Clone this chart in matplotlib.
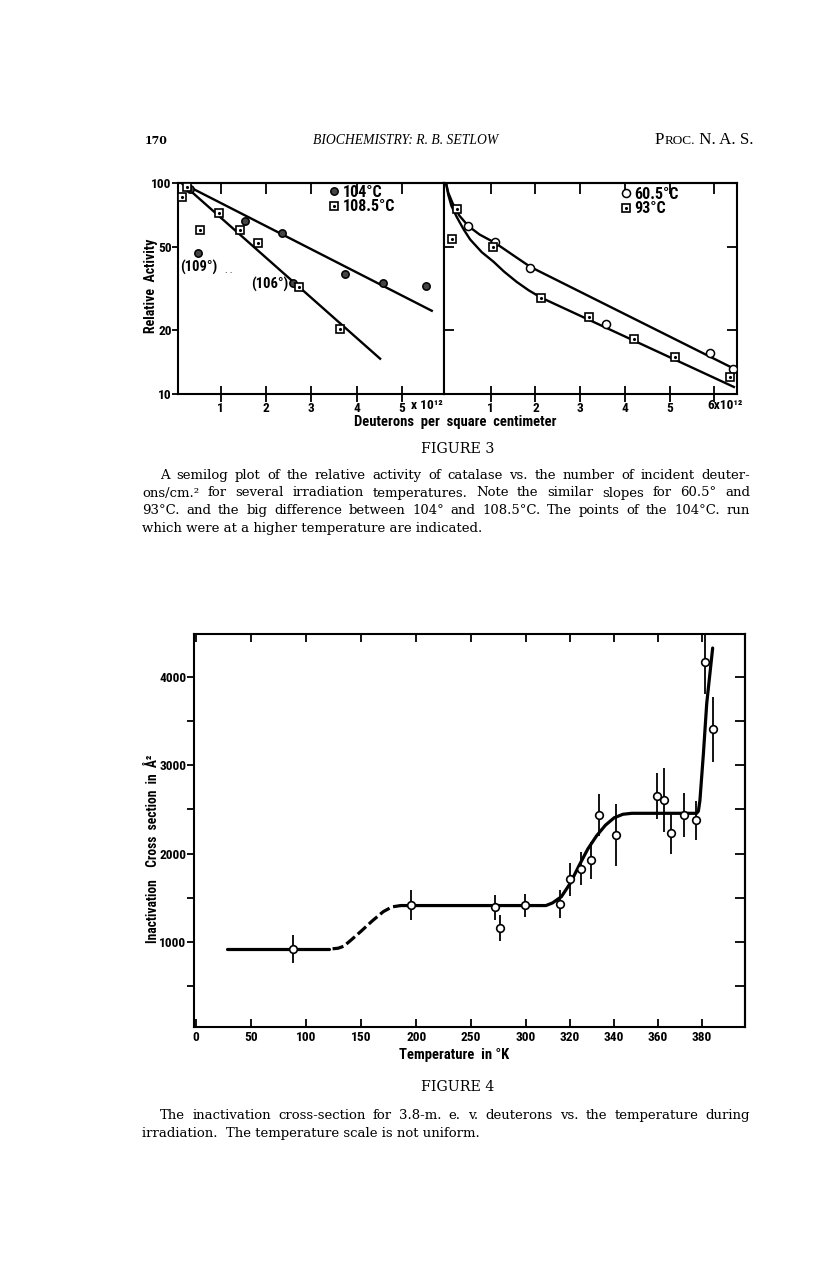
import numpy as np
import matplotlib
matplotlib.use("Agg")
import matplotlib.pyplot as plt
from matplotlib import font_manager as fm

W, H = 816, 1267
DPI = 100

# ---------------- Figure 3 data ----------------
dose_104 = [0.32, 1.54, 2.35, 0.51, 2.59, 3.74, 4.59, 5.53]
act_104 = [93.7, 66.0, 57.8, 46.8, 33.7, 37.0, 33.5, 32.6]
dose_1085 = [0.14, 0.26, 0.54, 0.97, 1.43, 1.82, 2.72, 3.63]
act_1085 = [86.0, 95.5, 59.7, 71.8, 59.7, 52.1, 32.0, 20.3]
line_104_x = [0.14, 5.66]
line_104_y = [100.0, 24.8]
line_1085_x = [0.14, 4.52]
line_1085_y = [100.0, 14.7]

dose_605 = [0.50, 1.10, 1.89, 3.59, 5.91, 6.41]
act_605 = [62.5, 52.4, 39.7, 21.5, 15.7, 13.2]
dose_93 = [0.13, 0.25, 1.06, 2.13, 3.21, 4.21, 5.13, 6.35]
act_93 = [54.3, 75.3, 49.6, 28.6, 23.2, 18.2, 14.9, 12.0]
curve_605_x = [0.0, 0.05, 0.15, 0.30, 0.50, 0.75, 1.10, 1.50, 1.89, 6.50]
curve_605_y = [100, 90, 80, 70, 62.5, 57, 52, 45.5, 40, 13.0]
curve_93_x = [0.0, 0.05, 0.12, 0.24, 0.40, 0.54, 0.80, 1.06, 1.30, 1.58, 1.85, 2.13, 6.44]
curve_93_y = [100, 88, 78, 69, 60, 54, 47, 42.4, 38, 34, 31, 28.6, 10.8]

left_xticks = [1, 2, 3, 4, 5]
right_xticks = [1, 2, 3, 4, 5, 6]
act_ticks = [10, 20, 50, 100]

# ---------------- Figure 4 data ----------------
temp_K = [88.2, 195.5, 271.5, 276.4, 298.8, 315.6, 320.0, 324.9, 329.4, 333.0,
          340.8, 359.7, 362.7, 365.9, 371.8, 377.0, 381.4, 385.1]
cross_section = [921, 1416, 1390, 1155, 1413, 1427, 1707, 1828, 1926, 2436,
                 2210, 2652, 2607, 2236, 2436, 2376, 4171, 3408]
cross_err = [160, 170, 140, 145, 130, 155, 185, 190, 210, 235,
             355, 260, 365, 240, 250, 220, 360, 370]
fit_low_T = [28, 121]
fit_low_s = [920, 920]
fit_rise_T = [124, 129, 134, 140, 150, 160, 170, 178, 186]
fit_rise_s = [920, 926, 948, 1010, 1120, 1235, 1340, 1395, 1410]
fit_high_T = [186, 309, 312, 316, 320, 324, 328, 332, 336, 340, 344, 348, 352,
              377.5, 378.3, 379.0, 380.6, 382.1, 384.8]
fit_high_s = [1410, 1410, 1440, 1510, 1660, 1860, 2050, 2200, 2320, 2405, 2445,
              2456, 2456, 2456, 2480, 2600, 3136, 3703, 4330]
temp_ticks = [0, 50, 100, 150, 200, 250, 300, 320, 340, 360, 380]
sigma_major = [1000, 2000, 3000, 4000]
sigma_minor = [500, 1500, 2500, 3500]
sigma_right = [500, 1000, 1500, 2000, 2500, 3000, 3500, 4000]

# ---------------- fonts ----------------
avail = {f.name for f in fm.fontManager.ttflist}


def pick(*names):
    for n in names:
        if n in avail:
            return n
    return "DejaVu Sans"


SANS_NAME = pick("Liberation Sans Narrow", "Roboto Condensed", "Open Sans Condensed",
                 "Noto Sans Condensed", "Liberation Sans", "Roboto")
SANS = [SANS_NAME, "DejaVu Sans"]
SERIF = ["DejaVu Serif"]
TIMES = [pick("Liberation Serif", "DejaVu Serif"), "DejaVu Serif"]

fig = plt.figure(figsize=(W / DPI, H / DPI), dpi=DPI)
fig.patch.set_facecolor("white")
R = fig.canvas.get_renderer()


def rect(l, t, r, b):
    return [l / W, 1 - b / H, (r - l) / W, (b - t) / H]


def T(x, y, s, **kw):
    return fig.text(x / W, 1 - y / H, s, **kw)


def size_for(s, width, size0=20, **kw):
    t = fig.text(0, 0, s, fontsize=size0, **kw)
    w = t.get_window_extent(renderer=R).width
    t.remove()
    return size0 * width / w


def fit_text(s, x0, x1, y, **kw):
    sz = size_for(s, x1 - x0, **kw)
    return fig.text(x0 / W, 1 - y / H, s, fontsize=sz, va="baseline", ha="left", **kw)


def justify(line, y, x0, x1, **kw):
    words = line.split()
    ts = [fig.text(0, 0, w_, va="baseline", ha="left", **kw) for w_ in words]
    widths = [t.get_window_extent(renderer=R).width for t in ts]
    gap = (x1 - x0 - sum(widths)) / max(len(words) - 1, 1)
    x = x0
    for t, w_ in zip(ts, widths):
        t.set_position((x / W, 1 - y / H))
        x += w_ + gap


def plain(line, y, x0, **kw):
    return fig.text(x0 / W, 1 - y / H, line, va="baseline", ha="left", **kw)


BOLD = dict(family=SANS, weight="bold")
tick_font = dict(family=SANS, weight="bold", size=9.6)

# ---------------- Figure 3 ----------------
ax1 = fig.add_axes(rect(178, 183, 444, 394))
ax2 = fig.add_axes(rect(444, 183, 737, 394))
for ax in (ax1, ax2):
    ax.set_yscale("log")
    ax.set_ylim(10, 100)
    ax.yaxis.set_minor_locator(plt.NullLocator())
    for s in ax.spines.values():
        s.set_linewidth(1.5)
ax1.set_xlim(0.06, 5.93)
ax2.set_xlim(-0.045, 6.51)

ax1.plot(line_104_x, line_104_y, color="black", lw=1.7, zorder=2)
ax1.plot(line_1085_x, line_1085_y, color="black", lw=1.7, zorder=2)
h104, = ax1.plot(dose_104, act_104, "o", ms=5.3, mfc="#444444", mec="black", mew=1.1, zorder=3)
h1085s, = ax1.plot(dose_1085, act_1085, "s", ms=6.3, mfc="white", mec="black", mew=1.2, zorder=3)
h1085d, = ax1.plot(dose_1085, act_1085, ".", ms=2.5, color="black", zorder=4)

ax2.plot(curve_605_x, curve_605_y, color="black", lw=1.7, zorder=2)
ax2.plot(curve_93_x, curve_93_y, color="black", lw=1.7, zorder=2)
h605, = ax2.plot(dose_605, act_605, "o", ms=5.8, mfc="white", mec="black", mew=1.1, zorder=3)
h93s, = ax2.plot(dose_93, act_93, "s", ms=6.3, mfc="white", mec="black", mew=1.2, zorder=3)
h93d, = ax2.plot(dose_93, act_93, ".", ms=2.5, color="black", zorder=4)

ax1.set_yticks(act_ticks)
ax1.set_yticklabels([str(v) for v in act_ticks], fontdict=tick_font)
ax1.tick_params(axis="y", which="major", direction="out", length=4, width=1.3, pad=0.5,
                left=True, right=False)
ax2.set_yticks([20, 50])
ax2.tick_params(axis="y", which="major", direction="in", length=7, width=1.3,
                left=True, right=True, labelleft=False)

ax1.set_xticks(left_xticks)
ax1.set_xticklabels([str(v) for v in left_xticks], fontdict=tick_font)
ax2.set_xticks(right_xticks)
ax2.set_xticklabels([str(v) for v in right_xticks[:-1]] + [""], fontdict=tick_font)
for ax in (ax1, ax2):
    ax.tick_params(axis="x", which="major", direction="inout", length=12, width=1.3, pad=0,
                   top=False, bottom=True)
    sec = ax.secondary_xaxis("top")
    sec.set_xticks(left_xticks if ax is ax1 else right_xticks)
    sec.tick_params(axis="x", direction="in", length=8, width=1.3, labeltop=False)
    sec.spines["top"].set_linewidth(1.5)

T(411, 409, "x 10¹²", ha="left", va="baseline", **tick_font)
T(707, 409, "6x10¹²", ha="left", va="baseline", **tick_font)

T(151, 286, "Relative  Activity", rotation=90, ha="center", va="center",
  fontsize=10, **BOLD)
T(455, 426, "Deuterons  per  square  centimeter", ha="center", va="baseline",
  fontsize=10.5, **BOLD)

T(199, 267, "(109°)", ha="center", va="center", fontsize=10.5, **BOLD)
T(229, 273, ". .", ha="center", va="baseline", family=SANS, size=7)
T(288, 284, "(106°)", ha="right", va="center", fontsize=10.5, **BOLD)

leg_kw = dict(loc="upper left", bbox_transform=fig.transFigure, frameon=False,
              handlelength=0.6, handletextpad=0.25, labelspacing=-0.05, borderpad=0,
              borderaxespad=0, prop=dict(family=SANS, weight="bold", size=11.5))
ax1.legend([h104, (h1085s, h1085d)], ["104°C", "108.5°C"],
           bbox_to_anchor=(329 / W, 1 - 185 / H), **leg_kw)
ax2.legend([h605, (h93s, h93d)], ["60.5°C", "93°C"],
           bbox_to_anchor=(621 / W, 1 - 187 / H), **leg_kw)

# ---------------- Figure 4 ----------------
def fwd(x):
    x = np.asarray(x, dtype=float)
    return np.where(x <= 300, x, 300 + 2 * (x - 300))


def inv(y):
    y = np.asarray(y, dtype=float)
    return np.where(y <= 300, y, 300 + (y - 300) / 2)


ax3 = fig.add_axes(rect(194, 634, 745, 1027))
ax3.set_xscale("function", functions=(fwd, inv))
ax3.set_xlim(-2, 399.5)
ax3.set_ylim(33, 4489)
for s in ax3.spines.values():
    s.set_linewidth(1.5)

ax3.plot(fit_low_T, fit_low_s, color="black", lw=2.3, solid_capstyle="round", zorder=2)
ax3.plot(fit_rise_T, fit_rise_s, color="black", lw=2.3, linestyle=(0, (3.5, 1.2)), zorder=2)
ax3.plot(fit_high_T, fit_high_s, color="black", lw=2.3, solid_capstyle="round", zorder=2)
ax3.errorbar(temp_K, cross_section, yerr=cross_err, fmt="none", ecolor="black",
             elinewidth=1.3, capsize=0, zorder=3)
ax3.plot(temp_K, cross_section, "o", ms=5.5, mfc="white", mec="black", mew=1.2, zorder=4)

ax3.set_xticks(temp_ticks)
ax3.set_xticklabels([str(v) for v in temp_ticks], fontdict=tick_font)
ax3.xaxis.set_minor_locator(plt.NullLocator())
ax3.tick_params(axis="x", which="major", direction="in", length=6, width=1.3, pad=3,
                top=True, bottom=True)
ax3.set_yticks(sigma_major)
ax3.set_yticks(sigma_minor, minor=True)
ax3.set_yticklabels([str(v) for v in sigma_major], fontdict=tick_font)
ax3.tick_params(axis="y", which="both", direction="out", length=5, width=1.3, pad=0.5,
                left=True, right=False)
sec3 = ax3.secondary_yaxis("right")
sec3.set_yticks(sigma_right)
sec3.tick_params(axis="y", direction="in", length=7, width=1.3, labelright=False)
sec3.spines["right"].set_linewidth(1.5)

ylab = "Inactivation    Cross  section  in  Å²"
ylab_size = size_for(ylab, 188, **BOLD)
T(153, 849, ylab, rotation=90, ha="center", va="center", fontsize=ylab_size, **BOLD)
T(454, 1059, "Temperature  in °K", ha="center", va="baseline", fontsize=10.5, **BOLD)

# ---------------- Page text ----------------
fit_text("170", 145, 168, 144, family=SERIF, weight="bold")
fit_text("BIOCHEMISTRY: R. B. SETLOW", 313, 497, 144, family=TIMES, style="italic")
big = size_for("P", 9.5, family=TIMES)
tp = T(655, 144, "P", va="baseline", ha="left", family=TIMES, size=big)
tr = fig.text(0, 0, "ROC.", va="baseline", ha="left", family=TIMES, size=big * 0.78)
tn = fig.text(0, 0, " N. A. S.", va="baseline", ha="left", family=TIMES, size=big)
x = 655 + tp.get_window_extent(R).width
tr.set_position((x / W, 1 - 144 / H))
x += tr.get_window_extent(R).width
tn.set_position((x / W, 1 - 144 / H))

fit_text("FIGURE 3", 421, 494, 453, family=SERIF)
fit_text("FIGURE 4", 421, 494, 1091, family=SERIF)

cap3 = [("A semilog plot of the relative activity of catalase vs. the number of incident deuter-", 160),
        ("ons/cm.² for several irradiation temperatures.  Note the similar slopes for 60.5° and", 142),
        ("93°C. and the big difference between 104° and 108.5°C.  The points of the 104°C. run", 142)]
cap4 = [("The inactivation cross-section for 3.8-m. e. v. deuterons vs. the temperature during", 160)]
cap_size = size_for("which were at a higher temperature are indicated.", 340, family=SERIF)
for line, x0 in cap3 + cap4:
    cap_size = min(cap_size, 0.985 * size_for(line, 750 - x0, family=SERIF))
cap_kw = dict(family=SERIF, size=cap_size)
for (line, x0), y in zip(cap3, [479, 496.5, 514]):
    justify(line, y, x0, 750, **cap_kw)
plain("which were at a higher temperature are indicated.", 531.5, 142, **cap_kw)
justify(cap4[0][0], 1119, 160, 750, **cap_kw)
plain("irradiation.  The temperature scale is not uniform.", 1136.5, 142, **cap_kw)

fig.savefig("out.png", dpi=DPI, facecolor="white")
